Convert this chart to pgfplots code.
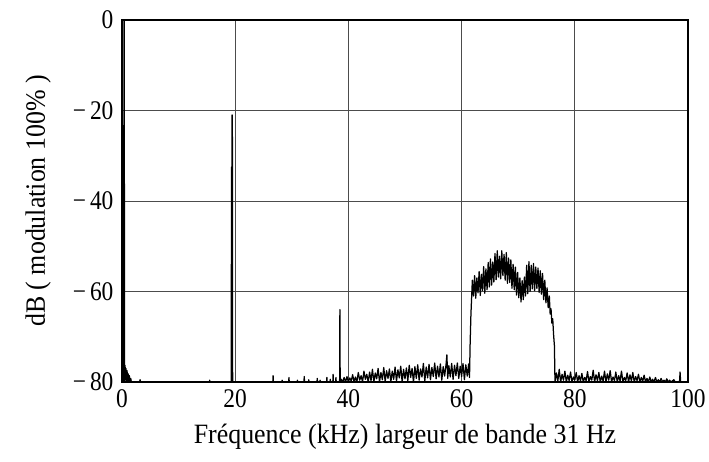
\documentclass[border=0pt]{standalone}
\usepackage{fontspec}
\setmainfont{Liberation Serif}
\usepackage{graphicx}
\usepackage{pgfplots}
\pgfplotsset{compat=1.18}
\newcommand{\vs}[1]{\scalebox{1}[1.15]{#1}}
\newcommand{\vl}[1]{\scalebox{1}[1.08]{#1}}
\pgfplotstableread{
x y
0.00 -80
0.30 -80
0.35 0
0.40 0
0.45 -76
0.50 -80
0.55 -76.3
0.60 -79.5
0.70 -77
0.80 -80
0.90 -77.5
1.00 -80
1.10 -78.2
1.20 -80
1.30 -78.6
1.40 -80
1.55 -79.2
1.65 -80
3.10 -80
3.20 -79.5
3.30 -80
15.45 -80
15.50 -79.6
15.55 -80
19.30 -80
19.35 -32.5
19.42 -32.5
19.45 -21
19.50 -21
19.55 -80
26.65 -80
26.70 -78.6
26.75 -80
28.25 -80
28.30 -79.6
28.35 -80
29.45 -80
29.50 -79.0
29.55 -80
30.95 -80
31.00 -79.6
31.05 -80
32.15 -80
32.20 -78.8
32.25 -80
32.95 -80
33.00 -79.5
33.05 -80
34.45 -80
34.50 -79.2
34.55 -80
34.95 -80
35.00 -79.6
35.05 -80
36.15 -80
36.20 -79.0
36.25 -80
36.75 -80
36.80 -79.4
36.85 -80
37.25 -80
37.30 -78.3
37.35 -80
37.75 -80
37.80 -79.0
37.85 -80
38.45 -80
38.50 -64
38.55 -80
38.75 -79.4
39.00 -80
39.25 -79.0
39.50 -80
39.75 -78.8
40.00 -80
40.25 -79.1
40.50 -79.8
40.75 -78.4
41.00 -80
41.25 -78.9
41.50 -80
41.75 -77.9
42.00 -79.6
42.25 -78.6
42.50 -80
42.75 -77.6
43.00 -79.4
43.25 -78.3
43.50 -80
43.75 -77.8
44.00 -79.7
44.25 -77.2
44.50 -80
44.75 -78.0
45.00 -79.3
45.25 -77.0
45.50 -80
45.75 -77.9
46.00 -79.5
46.25 -76.8
46.50 -79.9
46.75 -77.5
47.00 -79.2
47.25 -77.1
47.50 -80
47.75 -77.6
48.00 -79.4
48.25 -76.7
48.50 -79.8
48.75 -77.3
49.00 -79.1
49.25 -76.5
49.50 -80
49.75 -77.2
50.00 -79.3
50.25 -76.9
50.50 -79.7
50.75 -76.3
51.00 -79.0
51.25 -77.0
51.50 -80
51.75 -76.6
52.00 -79.2
52.25 -76.2
52.50 -79.6
52.75 -77.1
53.00 -78.9
53.25 -75.9
53.50 -79.8
53.75 -76.7
54.00 -79.1
54.25 -76.1
54.50 -79.5
54.75 -76.8
55.00 -78.8
55.25 -75.8
55.50 -79.3
55.75 -76.5
56.00 -78.9
56.25 -76.0
56.50 -79.6
56.75 -76.6
57.00 -78.7
57.25 -76.2
57.40 -74.0
57.55 -79.2
57.75 -76.4
58.00 -78.9
58.25 -75.9
58.50 -79.4
58.75 -76.3
59.00 -78.6
59.25 -75.8
59.50 -79.2
59.75 -76.5
60.00 -78.8
60.25 -75.9
60.50 -79.5
60.75 -76.2
61.00 -78.7
61.25 -76.0
61.40 -79.0
61.50 -72
61.65 -65
61.80 -60.5
61.90 -57.5
62.10 -61.0
62.30 -56.5
62.50 -61.5
62.70 -57.0
62.90 -60.3
63.10 -55.6
63.30 -60.9
63.50 -56.2
63.70 -59.8
63.90 -54.5
64.10 -60.4
64.30 -55.0
64.50 -59.6
64.70 -53.6
64.90 -59.0
65.10 -52.8
65.30 -58.6
65.50 -53.5
65.70 -57.9
65.90 -51.6
66.10 -57.4
66.30 -51.0
66.50 -56.8
66.70 -52.2
66.90 -57.2
67.10 -51.0
67.30 -56.5
67.50 -51.8
67.70 -57.5
67.90 -51.4
68.10 -58.2
68.30 -52.6
68.50 -58.0
68.70 -53.0
68.90 -59.3
69.10 -54.0
69.30 -59.6
69.50 -54.6
69.70 -60.8
69.90 -55.8
70.10 -61.4
70.30 -57.0
70.50 -62.3
70.70 -57.6
70.90 -61.8
71.10 -56.8
71.30 -61.0
71.50 -54.2
71.70 -60.5
71.90 -53.4
72.10 -60.0
72.30 -54.2
72.50 -59.4
72.70 -53.8
72.90 -59.8
73.10 -54.6
73.30 -59.3
73.50 -54.8
73.70 -60.2
73.90 -55.4
74.10 -60.6
74.30 -56.0
74.50 -61.8
74.70 -57.5
74.90 -62.5
75.10 -59.2
75.30 -63.6
75.50 -61.0
75.65 -65.0
75.80 -63.8
75.95 -67.0
76.10 -66.0
76.25 -69.5
76.40 -72
76.50 -80
76.75 -78.0
77.00 -79.8
77.25 -77.2
77.50 -80
77.75 -78.3
78.00 -79.6
78.25 -77.6
78.50 -80
78.75 -78.5
79.00 -79.7
79.25 -77.8
79.50 -80
79.75 -78.9
80.00 -79.6
80.25 -77.9
80.50 -80
80.75 -78.6
81.00 -79.8
81.25 -78.1
81.50 -80
81.75 -79.0
82.00 -79.7
82.25 -77.7
82.50 -80
82.75 -78.8
83.00 -79.6
83.25 -77.4
83.50 -80
83.75 -78.4
84.00 -79.7
84.25 -77.9
84.50 -80
84.75 -78.7
85.00 -79.8
85.25 -77.6
85.50 -80
85.75 -78.2
86.00 -79.6
86.25 -77.5
86.50 -80
86.75 -78.9
87.00 -79.7
87.25 -77.8
87.50 -80
87.75 -78.6
88.00 -79.8
88.25 -77.6
88.50 -80
88.75 -79.0
89.00 -79.7
89.25 -78.0
89.50 -80
89.75 -78.4
90.00 -79.8
90.25 -77.9
90.50 -80
90.75 -78.8
91.00 -79.7
91.25 -78.3
91.50 -80
91.75 -79.0
92.00 -79.8
92.25 -78.5
92.50 -80
92.75 -79.2
93.00 -80
93.25 -78.9
93.50 -80
93.75 -79.4
94.00 -80
94.25 -79.0
94.50 -80
94.75 -79.5
95.00 -80
95.25 -79.2
95.50 -80
95.75 -79.6
96.00 -80
96.25 -79.3
96.50 -80
96.75 -79.6
97.00 -80
97.50 -79.5
97.75 -80
98.50 -80
98.60 -77.8
98.70 -80
100.00 -80
}\spectrum
\begin{document}
\begin{tikzpicture}
\begin{axis}[
  scale only axis,
  width=566bp, height=362bp,
  xmin=0, xmax=100, ymin=-80, ymax=0,
  xtick={0,20,40,60,80,100},
  xticklabels={\vs{0},\vs{20},\vs{40},\vs{60},\vs{80},\vs{100}},
  ytick={-80,-60,-40,-20,0},
  yticklabels={\vs{−\,80},\vs{−\,60},\vs{−\,40},\vs{−\,20},\vs{0}},
  major tick length=0pt,
  grid=major,
  major grid style={draw=black!70, line width=0.9bp},
  axis line style={line width=1.4bp, black},
  tick label style={font=\fontsize{23.5}{28}\selectfont},
  xticklabel style={yshift=-4bp},
  yticklabel style={xshift=-5bp},
  label style={font=\fontsize{26}{30}\selectfont},
  xlabel={\vl{Fréquence (kHz) largeur de bande 31 Hz}},
  ylabel={\vl{dB ( modulation 100\% )}},
  xlabel style={at={(axis description cs:0.5,-0.152)}, anchor=center},
  ylabel style={at={(axis description cs:-0.148,0.5)}, anchor=center},
  clip=false,
]
\addplot[black, line width=1.25bp, line join=round] table[x=x,y=y] {\spectrum};
\path (rel axis cs:-0.2155,-0.221) rectangle (rel axis cs:1.0371,1.0552);
\end{axis}
\end{tikzpicture}
\end{document}
